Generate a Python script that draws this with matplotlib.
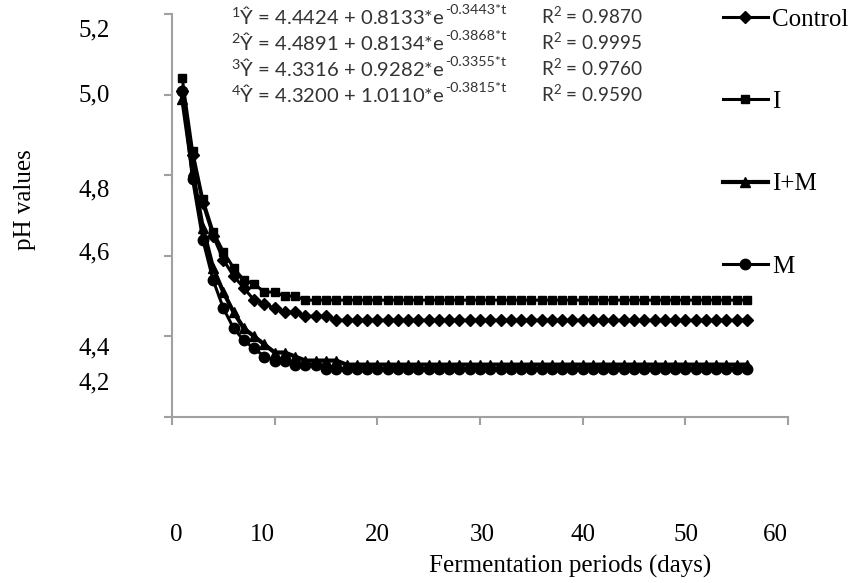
import numpy as np
import matplotlib.pyplot as plt

# pH, one value per day (days 1..56)
days = np.arange(1, 57)

control = [
    5.01, 4.85, 4.73, 4.65, 4.59, 4.55, 4.52, 4.49, 4.48, 4.47, 4.46, 4.46, 4.45, 4.45,
    4.45, 4.44, 4.44, 4.44, 4.44, 4.44, 4.44, 4.44, 4.44, 4.44, 4.44, 4.44, 4.44, 4.44,
    4.44, 4.44, 4.44, 4.44, 4.44, 4.44, 4.44, 4.44, 4.44, 4.44, 4.44, 4.44, 4.44, 4.44,
    4.44, 4.44, 4.44, 4.44, 4.44, 4.44, 4.44, 4.44, 4.44, 4.44, 4.44, 4.44, 4.44, 4.44,
]
treat_i = [
    5.04, 4.86, 4.74, 4.66, 4.61, 4.57, 4.54, 4.53, 4.51, 4.51, 4.50, 4.50, 4.49, 4.49,
    4.49, 4.49, 4.49, 4.49, 4.49, 4.49, 4.49, 4.49, 4.49, 4.49, 4.49, 4.49, 4.49, 4.49,
    4.49, 4.49, 4.49, 4.49, 4.49, 4.49, 4.49, 4.49, 4.49, 4.49, 4.49, 4.49, 4.49, 4.49,
    4.49, 4.49, 4.49, 4.49, 4.49, 4.49, 4.49, 4.49, 4.49, 4.49, 4.49, 4.49, 4.49, 4.49,
]
treat_im = [
    4.99, 4.81, 4.67, 4.57, 4.51, 4.46, 4.42, 4.40, 4.38, 4.36, 4.36, 4.35, 4.34, 4.34,
    4.34, 4.34, 4.33, 4.33, 4.33, 4.33, 4.33, 4.33, 4.33, 4.33, 4.33, 4.33, 4.33, 4.33,
    4.33, 4.33, 4.33, 4.33, 4.33, 4.33, 4.33, 4.33, 4.33, 4.33, 4.33, 4.33, 4.33, 4.33,
    4.33, 4.33, 4.33, 4.33, 4.33, 4.33, 4.33, 4.33, 4.33, 4.33, 4.33, 4.33, 4.33, 4.33,
]
treat_m = [
    5.01, 4.79, 4.64, 4.54, 4.47, 4.42, 4.39, 4.37, 4.35, 4.34, 4.34, 4.33, 4.33, 4.33,
    4.32, 4.32, 4.32, 4.32, 4.32, 4.32, 4.32, 4.32, 4.32, 4.32, 4.32, 4.32, 4.32, 4.32,
    4.32, 4.32, 4.32, 4.32, 4.32, 4.32, 4.32, 4.32, 4.32, 4.32, 4.32, 4.32, 4.32, 4.32,
    4.32, 4.32, 4.32, 4.32, 4.32, 4.32, 4.32, 4.32, 4.32, 4.32, 4.32, 4.32, 4.32, 4.32,
]

series_names = ['Control', 'I', 'I+M', 'M']

# fitted equations shown on the chart
fit_a = ['4.4424', '4.4891', '4.3316', '4.3200']
fit_b = ['0.8133', '0.8134', '0.9282', '1.0110']
fit_k = ['0.3443', '0.3868', '0.3355', '0.3815']
fit_r2 = ['0.9870', '0.9995', '0.9760', '0.9590']

# tick labels as printed (comma decimals, drawn at their own odd spots)
y_labels = ['5,2', '5,0', '4,8', '4,6', '4,4', '4,2']
x_labels = ['0', '10', '20', '30', '40', '50', '60']

W, H = 853, 583
plt.rcParams['mathtext.fontset'] = 'custom'
plt.rcParams['mathtext.rm'] = 'Lato'
plt.rcParams['mathtext.it'] = 'Lato:italic'
plt.rcParams['mathtext.bf'] = 'Lato:bold'
serif = 'Liberation Serif'
fs = 18
eq_color = '#333333'

fig = plt.figure(figsize=(W / 100, H / 100), dpi=100)
ax = fig.add_axes([172 / W, 1 - 417 / H, (788 - 172) / W, (417 - 14) / H])

styles = [
    dict(marker='D', ms=6.5, lw=2.2),
    dict(marker='s', ms=5.8, lw=2.2),
    dict(marker='^', ms=7.5, lw=3.0),
    dict(marker='o', ms=7.5, lw=2.2),
]
for vals, name, st in zip([control, treat_i, treat_im, treat_m], series_names, styles):
    ax.plot(days, vals, color='black', label=name, **st)

ax.set_xlim(0, 60)
ax.set_ylim(4.2, 5.2)
ax.set_xticks(np.arange(0, 61, 10))
ax.set_yticks(np.arange(4.2, 5.21, 0.2))
for s in ['top', 'right']:
    ax.spines[s].set_visible(False)
for s in ['left', 'bottom']:
    ax.spines[s].set_color('#a0a0a0')
    ax.spines[s].set_linewidth(1.5)
ax.tick_params(colors='#a0a0a0', width=1.5, length=5.5, direction='out',
               labelleft=False, labelbottom=False)

# tick labels placed where the original shows them
y_label_px = [30, 95, 190, 253, 348, 383]
for lab, ypx in zip(y_labels, y_label_px):
    fig.text(110 / W, 1 - ypx / H, lab, ha='right', va='center', fontsize=fs, family=serif)
x_label_px = [176, 262, 377, 482, 583, 686, 775]
for lab, xpx in zip(x_labels, x_label_px):
    fig.text(xpx / W, 1 - 535 / H, lab, ha='center', va='center', fontsize=fs, family=serif)

fig.text(570 / W, 1 - 566 / H, 'Fermentation periods (days)', ha='center', va='center',
         fontsize=fs, family=serif)
fig.text(25 / W, 1 - 200 / H, 'pH values', ha='center', va='center', rotation=90,
         fontsize=fs, family=serif)

# equations block
eq_base_px = [24, 50, 76, 102]
for i in range(4):
    eq = r'$^{%d}$Ŷ = %s + %s*e' % (i + 1, fit_a[i], fit_b[i])
    main = fig.text(231 / W, 1 - eq_base_px[i] / H, eq, ha='left', va='baseline',
                    fontsize=14.6, family='Lato', color=eq_color)
    ax.annotate('-%s*t' % fit_k[i], xy=(1, 1), xycoords=main, xytext=(0.5, 1),
                textcoords='offset points', ha='left', va='top',
                fontsize=10.3, family='Lato', color=eq_color, annotation_clip=False)
    fig.text(541 / W, 1 - eq_base_px[i] / H, r'R$^{2}$ = ' + fit_r2[i], ha='left',
             va='baseline', fontsize=13.6, family='Lato', color=eq_color)

fig.legend(loc='upper left', bbox_to_anchor=(723 / W, 1 - 8 / H), frameon=False,
           prop={'family': serif, 'size': fs}, handlelength=1.8, handletextpad=0.15,
           labelspacing=2.4, borderaxespad=0, borderpad=0)

fig.savefig('out.png', dpi=100)
